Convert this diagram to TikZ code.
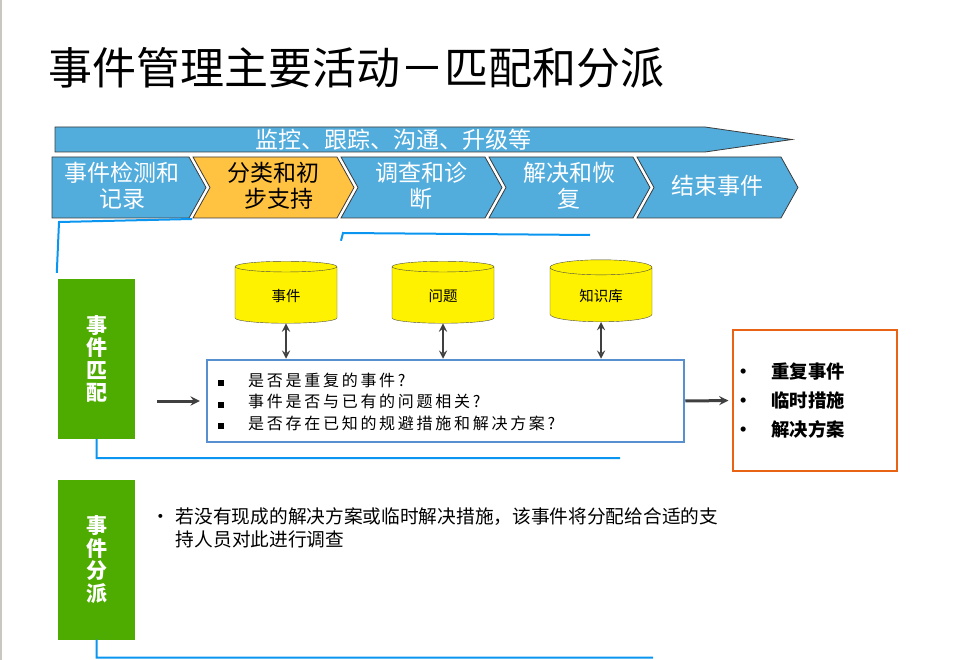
\documentclass[tikz,border=0pt]{standalone}
\usepackage{fontspec}
\usepackage{xcolor}
\usepackage{tikz}
\usetikzlibrary{shapes.geometric}
\newfontfamily\cjk{Noto Sans CJK SC}
\newfontfamily\cjkwide[LetterSpace=17]{Noto Sans CJK SC}
\definecolor{stageblue}{RGB}{82,173,221}
\definecolor{stageorange}{RGB}{255,194,65}
\definecolor{stageline}{RGB}{60,60,60}
\definecolor{matchgreen}{RGB}{78,172,0}
\definecolor{linkblue}{RGB}{10,150,240}
\definecolor{boxblue}{RGB}{88,143,208}
\definecolor{resorange}{RGB}{232,100,20}
\definecolor{arrowgray}{RGB}{64,64,64}
\definecolor{edgegray}{RGB}{200,200,192}

\begin{document}
\begin{tikzpicture}[
    x=1pt, y=-1pt,
    >=stealth,
    every node/.style={font=\cjk},
    stage/.style={draw=stageline, line width=0.8pt},
    stagetext/.style={font=\cjk\fontsize{23}{26}\selectfont, align=center, inner sep=0pt},
    greenbar/.style={fill=matchgreen, minimum width=77pt, minimum height=160pt, inner sep=0pt,
      text=white, align=center, font=\cjk\bfseries\fontsize{21}{22.5}\selectfont},
    cyl/.style={cylinder, shape border rotate=90, aspect=0.3, draw=gray!60!black, fill=yellow,
      minimum width=102pt, minimum height=62pt, font=\cjk\fontsize{14.5}{16}\selectfont},
    link/.style={draw=linkblue, line width=2pt},
    flow/.style={->, draw=arrowgray, line width=3pt},
    both/.style={<->, draw=arrowgray, line width=2.6pt}
  ]
    \useasboundingbox (0,0) rectangle (967,660);
    \draw[edgegray, line width=1.5pt] (1,0) -- (1,660);

    % title
    \node[anchor=west, inner sep=0pt, font=\cjk\fontsize{44}{48}\selectfont] (title) at (48,68)
      {事件管理主要活动－匹配和分派};

    % banner and stages
    \draw[stage, fill=stageblue] (55,127) -- (705,127) -- (792,139.5) -- (705,152) -- (55,152) -- cycle;
    \node[stagetext, text=white] (banner) at (393,139.5) {监控、跟踪、沟通、升级等};

    \draw[stage, fill=stageblue] (52,157) -- (189,157) -- (206,187.5) -- (189,218) -- (52,218) -- cycle;
    \node[stagetext, text=white] (detect) at (122,186) {事件检测和\\记录};
    \foreach \l/\c/\tc/\t/\n in {193/stageorange/black/{分类和初\\\hspace{12pt}步支持}/classify,
        341/stageblue/white/{调查和诊\\断}/diagnose,
        489/stageblue/white/{解决和恢\\复}/resolve,
        637/stageblue/white/{结束事件}/close} {
      \draw[stage, fill=\c] (\l,157) -- ++(144,0) -- ++(17,30.5) -- ++(-17,30.5) -- ++(-144,0)
        -- ++(17,-30.5) -- cycle;
      \node[stagetext, text=\tc] (\n) at (\l+80,186) {\t};
    }

    % matching
    \node[greenbar] (gmatch) at (96.5,359) {事\\件\\匹\\配};
    \node[greenbar] (gdispatch) at (96.5,559.5) {事\\件\\分\\派};

    \node[cyl] (incident) at (286,296) {事件};
    \node[cyl] (problem) at (443,296) {问题};
    \node[cyl] (known) at (601,296) {知识库};

    \node[draw=boxblue, line width=2.5pt, minimum width=477pt, minimum height=82pt] (query) at (445.5,401) {};
    \node[anchor=west, align=left, inner sep=0pt, font=\cjkwide\fontsize{16}{21.5}\selectfont] (checks) at (218,401.5)
      {\rule{6pt}{6pt}\hspace{24pt}是否是重复的事件?\\
       \rule{6pt}{6pt}\hspace{24pt}事件是否与已有的问题相关?\\
       \rule{6pt}{6pt}\hspace{24pt}是否存在已知的规避措施和解决方案?};

    \draw[both] (incident.south) -- (incident.south |- query.north);
    \draw[both] (problem.south) -- (problem.south |- query.north);
    \draw[both] (known.south) -- (known.south |- query.north);

    \node[draw=resorange, line width=1.2pt, minimum width=164pt, minimum height=141pt] (result) at (815,400.5) {};
    \node[anchor=west, align=left, inner sep=0pt, font=\cjk\bfseries\fontsize{18.3}{29}\selectfont] (outcomes) at (734,401)
      {\textbullet\hspace{19pt}重复事件\\
       \textbullet\hspace{19pt}临时措施\\
       \textbullet\hspace{19pt}解决方案};

    \draw[flow, shorten >=6pt] (gmatch.east |- query.west) ++(22,0) -- (query.west);
    \draw[flow, shorten >=4pt] (query.east) -- (result.west);

    % dispatch
    \node[anchor=north west, align=left, inner sep=0pt, font=\cjk\fontsize{18.7}{23.5}\selectfont] (assign) at (151,507)
      {\textbullet\hspace{6pt}若没有现成的解决方案或临时解决措施，该事件将分配给合适的支\\
       \hphantom{\textbullet\hspace{6pt}}持人员对此进行调查};

    % links
    \draw[link] (gmatch.north west) ++(-1,-6) -- (59,222) -- (192,219);
    \draw[link] (classify.south -| 341,0) ++(0,31) -- (343,233) -- (590,235);
    \draw[link] (gmatch.south) -- ++(0,19) -- (620,458);
    \draw[link] (gdispatch.south) -- ++(0,18) -- (653,657.5);
  \end{tikzpicture}
\end{document}
